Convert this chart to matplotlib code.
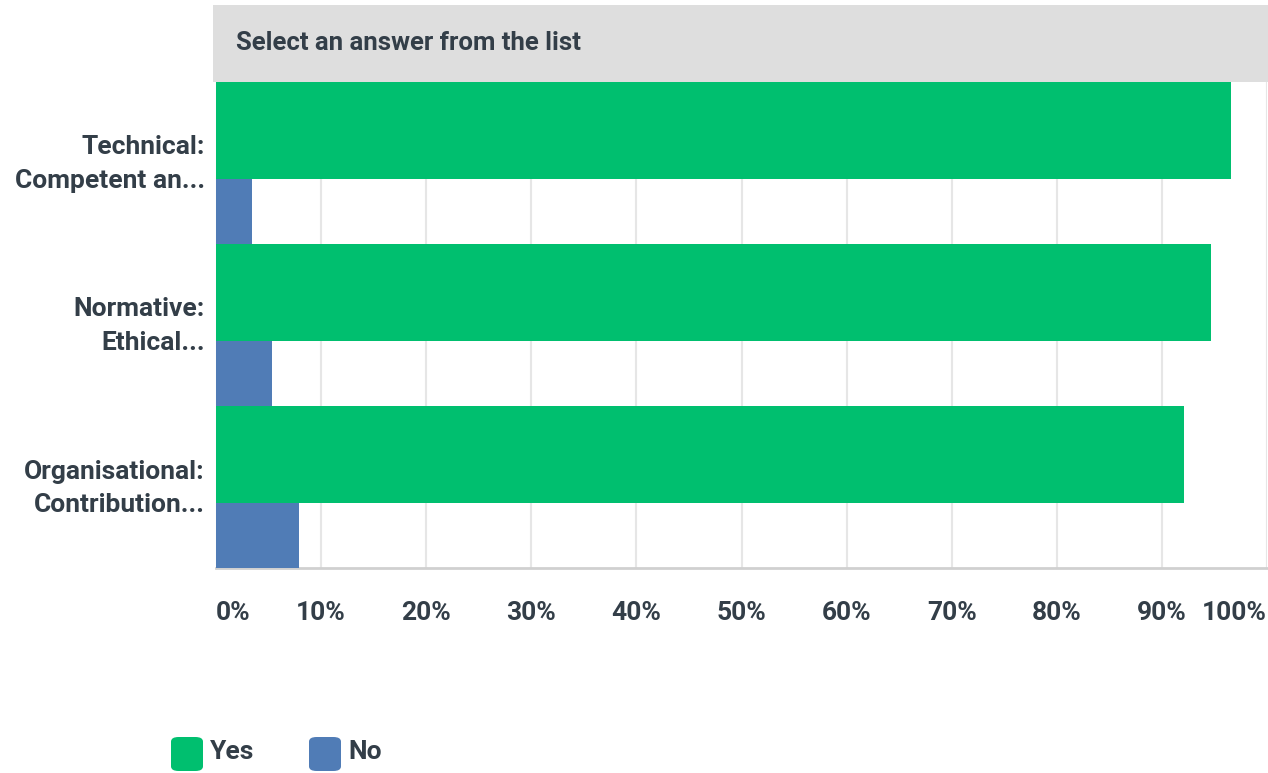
import matplotlib
matplotlib.use("Agg")
import matplotlib.pyplot as plt
from matplotlib.patches import FancyBboxPatch, Rectangle
from matplotlib.transforms import ScaledTranslation

categories = ["Technical:\nCompetent an...", "Normative:\nEthical...", "Organisational:\nContribution..."]
series = ["Yes", "No"]
yes_pct = [96.6, 94.7, 92.1]
no_pct = [3.4, 5.3, 7.9]
tick_labels = ["0%", "10%", "20%", "30%", "40%", "50%", "60%", "70%", "80%", "90%", "100%"]
header = "Select an answer from the list"

GREEN = "#00bf6f"
BLUE = "#507cb6"
TEXT = "#333e48"

plt.rcParams["font.family"] = ["Liberation Sans Narrow", "Roboto", "DejaVu Sans"]
plt.rcParams["font.weight"] = "bold"

W, H = 1268, 773
fig = plt.figure(figsize=(W / 100, H / 100), dpi=100)
ax = fig.add_axes([216 / W, 1 - 568 / H, (1267 - 216) / W, (568 - 82) / H])

# grey header band above the plot
fig.patches.append(Rectangle((213 / W, 1 - 82 / H), 1 - 213 / W, 77 / H,
                             transform=fig.transFigure, facecolor="#dedede", edgecolor="none"))
fig.text(236 / W, 1 - 43 / H, header, fontsize=18.5, color=TEXT, va="center", ha="left")

yes_h, no_h = 0.6, 0.4
pos = range(len(categories))
ax.barh([p for p in pos], yes_pct, height=yes_h, align="edge", color=GREEN, zorder=3)
ax.barh([p + yes_h for p in pos], no_pct, height=no_h, align="edge", color=BLUE, zorder=3)

ax.set_xlim(0, 100)
ax.set_ylim(len(categories), 0)
ax.set_xticks(range(0, 101, 10))
ax.set_xticklabels(tick_labels, fontsize=19, color=TEXT)
ax.xaxis.grid(True, color="#e6e6e6", linewidth=1.5, zorder=0)
ax.tick_params(axis="x", length=0, pad=24)
labels = ax.get_xticklabels()
labels[0].set_ha("left")
labels[-1].set_ha("right")

ax.set_yticks([p + 0.5 for p in pos])
ax.set_yticklabels(categories, fontsize=19, color=TEXT, linespacing=1.5)
ax.tick_params(axis="y", length=0, pad=8)
# nudge the two-line category labels up a little
lift = ScaledTranslation(0, 0.06, fig.dpi_scale_trans)
for lab in ax.get_yticklabels():
    lab.set_transform(lab.get_transform() + lift)

for side in ["top", "right"]:
    ax.spines[side].set_visible(False)
ax.spines["left"].set_color("#e6e6e6")
ax.spines["bottom"].set_color("#d0d0d0")
ax.spines["bottom"].set_linewidth(2)

# legend with rounded swatches
legend_x = [171, 309]
for name, color, x in zip(series, [GREEN, BLUE], legend_x):
    fig.patches.append(FancyBboxPatch((x / W, 1 - 771 / H), 32 / W, 34 / H,
                                      boxstyle="round,pad=0,rounding_size=0.006",
                                      transform=fig.transFigure, facecolor=color, edgecolor="none"))
    fig.text((x + 39) / W, 1 - 752 / H, name, fontsize=19, color=TEXT, va="center", ha="left")

fig.savefig("out.png", dpi=100)
